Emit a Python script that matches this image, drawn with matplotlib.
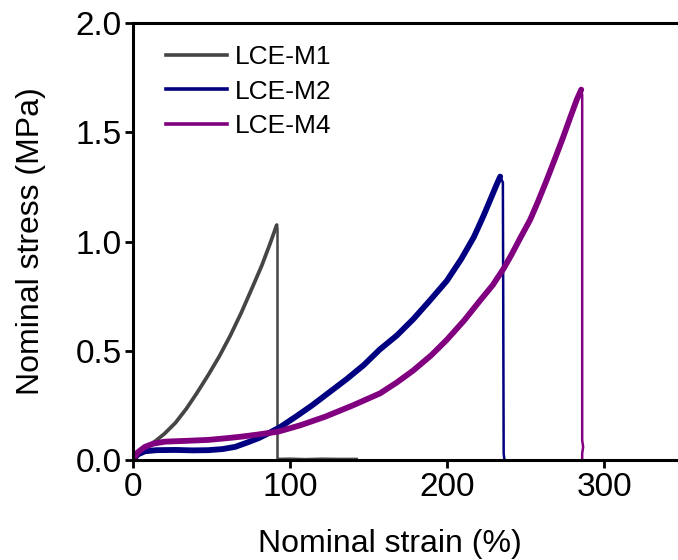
import matplotlib
matplotlib.use("Agg")
import matplotlib.pyplot as plt

plt.rcParams['font.family'] = ['Liberation Sans', 'DejaVu Sans']

# LCE-M1 (strain %, stress MPa)
m1_strain = [0, 4, 8, 14, 20, 27, 34, 41, 48, 55, 62, 69, 76, 82, 87, 91.5]
m1_stress = [0, 0.03, 0.055, 0.085, 0.12, 0.17, 0.235, 0.31, 0.39, 0.475, 0.57, 0.675, 0.79, 0.89, 0.985, 1.075]
m1_break_strain = [91.5, 92, 92, 100, 110, 120, 130, 142.5]
m1_break_stress = [1.075, 1.06, 0.005, 0.006, 0.004, 0.006, 0.005, 0.005]

# LCE-M2
m2_strain = [0, 3, 7.6, 15, 27, 38, 48, 57, 65, 72, 80, 87, 94, 104, 114, 125, 136, 147, 157, 168,
             178.5, 189, 199.8, 209, 217, 223, 228, 231.5, 233.8]
m2_stress = [0, 0.025, 0.04, 0.045, 0.046, 0.044, 0.045, 0.05, 0.06, 0.078, 0.10, 0.125, 0.152, 0.20,
             0.25, 0.31, 0.37, 0.435, 0.505, 0.57, 0.645, 0.73, 0.82, 0.92, 1.02, 1.115, 1.2, 1.26, 1.297]
m2_break_strain = [233.8, 235.5, 236, 236.5]
m2_break_stress = [1.297, 1.27, 0.03, 0.0]

# LCE-M4
m4_strain = [0, 3, 7.6, 13, 20.4, 35, 48, 60, 69.2, 80, 92.6, 107, 122.3, 140, 157.3, 168, 178.5,
             190, 199.8, 211, 221, 229, 235.9, 241, 246.5, 252.9, 258, 263.5, 269, 274, 278.5, 282.6, 285.4]
m4_stress = [0, 0.035, 0.06, 0.075, 0.084, 0.088, 0.092, 0.1, 0.107, 0.117, 0.13, 0.16, 0.198, 0.25,
             0.305, 0.355, 0.41, 0.48, 0.55, 0.64, 0.73, 0.80, 0.875, 0.94, 1.015, 1.10, 1.185, 1.283,
             1.385, 1.48, 1.57, 1.65, 1.695]
m4_break_strain = [285.4, 286, 286, 286.6, 286, 286]
m4_break_stress = [1.695, 1.67, 0.09, 0.06, 0.03, 0.0]

labels = ["LCE-M1", "LCE-M2", "LCE-M4"]
colors = ["#454545", "#000080", "#800080"]

fig = plt.figure(figsize=(6.78, 5.6), dpi=100)
ax = fig.add_axes([133 / 678, 100 / 560, 1 - 133 / 678, 437 / 560])

curves = [(m1_strain, m1_stress, m1_break_strain, m1_break_stress, 2.7),
          (m2_strain, m2_stress, m2_break_strain, m2_break_stress, 4.2),
          (m4_strain, m4_stress, m4_break_strain, m4_break_stress, 4.2)]
for (x, y, bx, by, lw), lab, c in zip(curves, labels, colors):
    ax.plot(x, y, color=c, lw=lw, solid_joinstyle='round', solid_capstyle='round')
    ax.plot(bx, by, color=c, lw=1.8, solid_joinstyle='round')
    ax.plot([], [], color=c, lw=2.6, label=lab)

ax.set_xlim(0, 347)
ax.set_ylim(0, 2.0)
ax.set_xticks([0, 100, 200, 300])
ax.set_yticks([0, 0.5, 1.0, 1.5, 2.0])
ax.set_yticklabels(["0.0", "0.5", "1.0", "1.5", "2.0"])

for side in ["left", "bottom", "top"]:
    ax.spines[side].set_linewidth(2.2)
ax.spines["right"].set_visible(False)
ax.tick_params(direction='out', length=6, width=2.0, labelsize=24, pad=3)
ax.tick_params(axis='y', pad=2)

ax.set_xlabel("Nominal strain (%)", fontsize=23)
ax.set_ylabel("Nominal stress (MPa)", fontsize=23)
ax.xaxis.set_label_coords((390 - 133) / 545, -0.158)
ax.yaxis.set_label_coords(-0.16, 0.5)

ax.legend(loc='upper left', bbox_to_anchor=(166 / 678, 515 / 560), bbox_transform=fig.transFigure,
          frameon=False, fontsize=19, handlelength=2.3, handletextpad=0.3, labelspacing=0.4,
          borderpad=0, borderaxespad=0)

fig.savefig("out.png", dpi=100)
